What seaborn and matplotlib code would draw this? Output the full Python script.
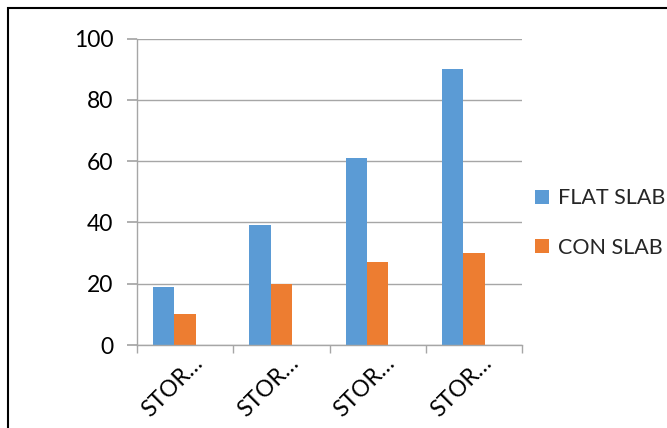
import matplotlib
matplotlib.use("Agg")
import matplotlib.pyplot as plt
import matplotlib.transforms as mtransforms
from matplotlib.patches import Rectangle, Patch
import seaborn as sns
import pandas as pd

categories = ["STOREY 1", "STOREY 2", "STOREY 3", "STOREY 4"]
tick_labels = ["STOR…", "STOR…", "STOR…", "STOR…"]
flat_slab = [19, 39, 61, 90]
con_slab = [10, 20, 27, 30]
# third series slot is left empty, as in the source workbook
empty_series = [0, 0, 0, 0]
series_names = ["FLAT SLAB", "CON SLAB", ""]

df = pd.DataFrame({
    "storey": categories * 3,
    "value": flat_slab + con_slab + empty_series,
    "series": [series_names[0]] * 4 + [series_names[1]] * 4 + [series_names[2]] * 4,
})

sns.set_theme(style="white")
plt.rcParams["font.family"] = ["Lato", "DejaVu Sans"]

blue = "#5B9BD5"
orange = "#ED7D31"
grid_c = "#A6A6A6"

fig = plt.figure(figsize=(6.67, 4.28), dpi=100)
ax = fig.add_axes([137 / 667, 1 - 345 / 428, (522 - 137) / 667, (345 - 38.5) / 428])

sns.barplot(data=df, x="storey", y="value", hue="series", order=categories,
            hue_order=series_names, palette=[blue, orange, "white"],
            width=0.663, saturation=1, linewidth=0, legend=False, ax=ax)

ax.set_ylim(0, 100)
ax.set_xlim(-0.5, 3.5)
ax.set_yticks([0, 20, 40, 60, 80, 100])
ax.yaxis.grid(True, color=grid_c, linewidth=1)
ax.set_axisbelow(True)
ax.set_xlabel("")
ax.set_ylabel("")

for side in ["top", "right"]:
    ax.spines[side].set_visible(False)
for side in ["left", "bottom"]:
    ax.spines[side].set_color(grid_c)
    ax.spines[side].set_linewidth(1)

ax.tick_params(axis="y", which="major", left=True, length=7, color=grid_c,
               labelsize=16.5, labelcolor="black", pad=10)
ax.tick_params(axis="x", which="major", bottom=False, length=0, labelsize=16.5,
               labelcolor="black", pad=0)
ax.set_xticks([-0.5, 0.5, 1.5, 2.5, 3.5], minor=True)
ax.tick_params(axis="x", which="minor", bottom=True, length=6, color=grid_c)

ax.set_xticks(range(len(categories)))
ax.set_xticklabels(tick_labels, rotation=45, ha="right", va="center",
                   rotation_mode="anchor")
offset = mtransforms.ScaledTranslation(14 / 100, -15 / 100, fig.dpi_scale_trans)
for lbl in ax.get_xticklabels():
    lbl.set_transform(lbl.get_transform() + offset)

handles = [Patch(facecolor=blue, edgecolor="none"),
           Patch(facecolor=orange, edgecolor="none")]
fig.legend(handles, series_names[:2], loc="center left",
           bbox_to_anchor=(535 / 667, 1 - 223 / 428), frameon=False,
           fontsize=15.5, handlelength=0.65, handleheight=0.65, handletextpad=0.4,
           labelspacing=1.35, borderpad=0, borderaxespad=0)

fig.patches.append(Rectangle((8 / 667, -0.05), 1.1, 1 - 8 / 428 + 0.05,
                             transform=fig.transFigure, fill=False,
                             edgecolor="black", linewidth=1.5, zorder=10))

fig.savefig("out.png", dpi=100)
